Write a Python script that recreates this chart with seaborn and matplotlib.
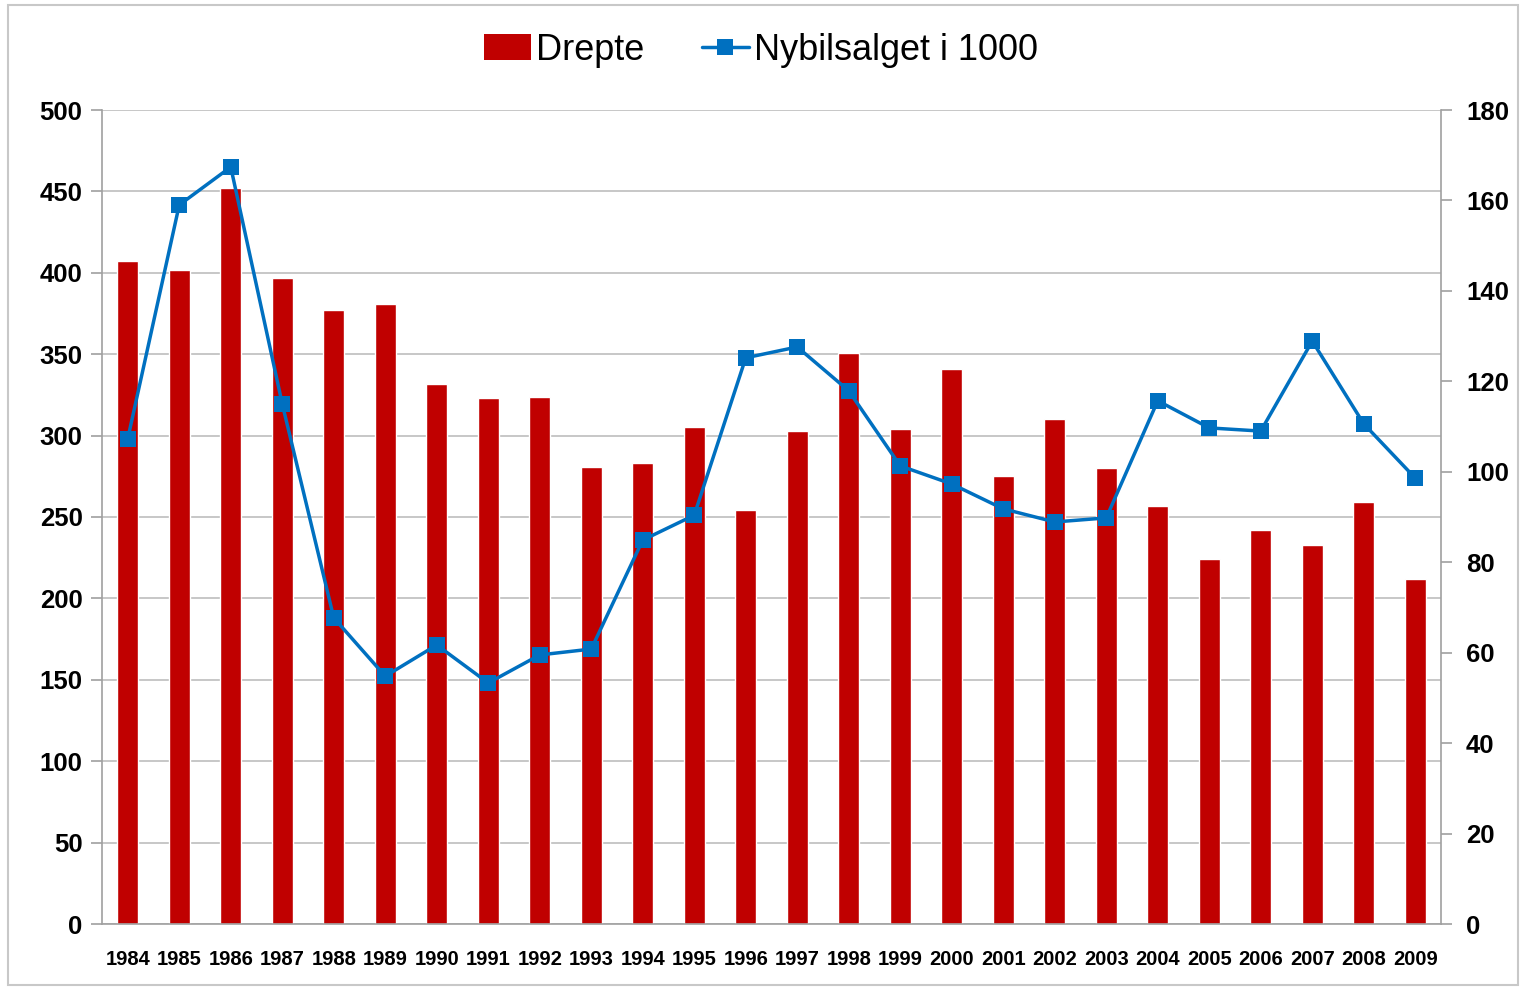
import numpy as np
import pandas as pd
import matplotlib
matplotlib.use('Agg')
import matplotlib.pyplot as plt
from matplotlib.lines import Line2D
from matplotlib.patches import Patch
import seaborn as sns

# data
years = [str(y) for y in range(1984, 2010)]
drepte = [407, 402, 452, 397, 377, 381, 332, 323, 324, 281, 283, 305, 254,
          303, 351, 304, 341, 275, 310, 280, 257, 224, 242, 233, 259, 212]
nybil = [107.3, 159, 167.4, 115, 67.7, 54.8, 61.7, 53.3, 59.5, 60.8, 84.9,
         90.4, 125.2, 127.6, 117.9, 101.3, 97.3, 91.8, 88.9, 89.8, 115.7,
         109.7, 109, 128.9, 110.6, 98.6]

df = pd.DataFrame({'year': years, 'drepte': drepte, 'nybil': nybil})
df['pos'] = np.arange(len(df))

sns.set_theme(style='white')
plt.rcParams['font.family'] = ['Liberation Sans', 'DejaVu Sans']
plt.rcParams['text.color'] = 'black'
plt.rcParams['xtick.labelcolor'] = 'black'
plt.rcParams['ytick.labelcolor'] = 'black'

red = '#C00000'
blue = '#0070C0'
grid_col = '#BEBEBE'

fig = plt.figure(figsize=(15.22, 9.89), dpi=100)
ax = fig.add_axes([102 / 1522, 1 - 924 / 989, (1441 - 102) / 1522, (924 - 110) / 989])

# outer frame of the chart
fig.patches.append(plt.Rectangle((8 / 1522, 4 / 989), 1510 / 1522, 980 / 989,
                                 transform=fig.transFigure, fill=False,
                                 edgecolor='#C8C8C8', linewidth=1.5))

sns.barplot(data=df, x='year', y='drepte', color=red, width=0.4,
            saturation=1, ax=ax, zorder=2)
ax.set_ylim(0, 500)
ax.set_xlim(-0.5, len(df) - 0.5)
ax.set_yticks(range(0, 501, 50))
ax.yaxis.grid(True, color=grid_col, linewidth=1.2)
ax.set_axisbelow(True)
ax.set_xlabel('')
ax.set_ylabel('')
for s in ['top', 'right']:
    ax.spines[s].set_visible(False)
for s in ['left', 'bottom']:
    ax.spines[s].set_color('#A0A0A0')
    ax.spines[s].set_linewidth(1.2)

# year ticks sit between categories
ax.set_xticks(np.arange(-0.5, len(df), 1.0), minor=True)
ax.tick_params(axis='x', which='major', length=0, pad=19)
ax.tick_params(axis='x', which='minor', length=8, width=1.2, color='#A0A0A0',
               direction='out')
ax.tick_params(axis='y', length=8, width=1.2, color='#A0A0A0', direction='out',
               pad=6)
for lbl in ax.get_xticklabels():
    lbl.set_fontsize(14.5)
    lbl.set_fontweight('bold')
for lbl in ax.get_yticklabels():
    lbl.set_fontsize(18.5)
    lbl.set_fontweight('bold')

ax2 = ax.twinx()
sns.lineplot(data=df, x='pos', y='nybil', color=blue, linewidth=2.5,
             marker='s', markersize=11, markeredgewidth=0, ax=ax2, zorder=3)
ax2.set_ylim(0, 180)
ax2.set_xlim(-0.5, len(df) - 0.5)
ax2.set_yticks(range(0, 181, 20))
ax2.set_xlabel('')
ax2.set_ylabel('')
for s in ['top', 'left', 'bottom']:
    ax2.spines[s].set_visible(False)
ax2.spines['right'].set_color('#A0A0A0')
ax2.spines['right'].set_linewidth(1.2)
ax2.tick_params(axis='y', length=8, width=1.2, color='#A0A0A0', direction='out',
                pad=10)
for lbl in ax2.get_yticklabels():
    lbl.set_fontsize(18.5)
    lbl.set_fontweight('bold')

handles = [Patch(facecolor=red, edgecolor='none'),
           Line2D([], [], color=blue, linewidth=2.5, marker='s', markersize=11,
                  markeredgewidth=0)]
fig.legend(handles, ['Drepte', 'Nybilsalget i 1000'], loc='center',
           bbox_to_anchor=(0.5, 1 - 50 / 989), ncol=2, frameon=False,
           fontsize=26, handlelength=1.3, handletextpad=0.15, columnspacing=1.6)

fig.savefig('out.png', dpi=100)
